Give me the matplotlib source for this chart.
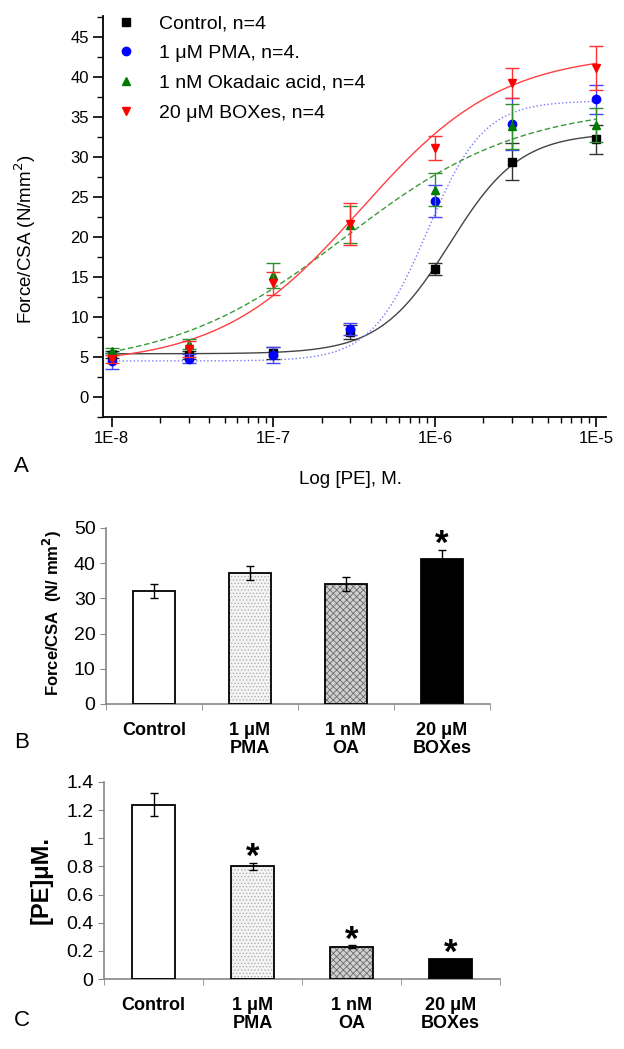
import numpy as np
import matplotlib
matplotlib.use('Agg')
import matplotlib.pyplot as plt
from matplotlib.lines import Line2D
from matplotlib.ticker import FixedLocator, NullFormatter, FuncFormatter, MultipleLocator

plt.rcParams['font.family'] = ['Liberation Sans', 'DejaVu Sans']
plt.rcParams['hatch.linewidth'] = 0.6

# ---------------- Panel A data ----------------
conc = [1e-8, 3e-8, 1e-7, 3e-7, 1e-6, 3e-6, 1e-5]
series_labels = ["Control, n=4", "1 μM PMA, n=4.", "1 nM Okadaic acid, n=4", "20 μM BOXes, n=4"]
control_mean = [5.3, 5.2, 5.5, 8.1, 16.0, 29.4, 32.2]
control_err = [0.4, 0.5, 0.7, 0.9, 0.8, 2.3, 1.8]
pma_mean = [4.5, 4.8, 5.3, 8.5, 24.5, 34.1, 37.2]
pma_err = [1.0, 0.6, 1.0, 0.7, 2.0, 3.3, 1.8]
oa_mean = [5.8, 6.6, 15.2, 21.5, 25.9, 33.8, 34.0]
oa_err = [0.3, 0.6, 1.6, 2.3, 2.1, 2.8, 2.1]
boxes_mean = [4.8, 6.0, 14.2, 21.6, 31.1, 39.2, 41.1]
boxes_err = [0.5, 1.0, 1.4, 2.6, 1.5, 1.9, 2.7]

# Hill-fit parameters of the drawn fit curves (bottom, top, EC50, slope)
fit_bottom = [5.4, 4.5, 3.5, 4.0]
fit_top = [33.0, 37.0, 36.5, 43.0]
fit_ec50 = [1.24e-6, 0.9e-6, 0.28e-6, 0.35e-6]
fit_hill = [2.0, 2.5, 0.8, 1.0]

# ---------------- Panel B / C data ----------------
bar_labels = ["Control", "1 μM\nPMA", "1 nM\nOA", "20 μM\nBOXes"]
maxforce_mean = [32.2, 37.2, 34.2, 41.1]
maxforce_err = [2.0, 1.9, 2.0, 2.6]
maxforce_sig = [False, False, False, True]
ec50_mean = [1.24, 0.80, 0.23, 0.14]
ec50_err = [0.085, 0.025, 0.01, 0.005]
ec50_sig = [False, True, True, True]

W, H = 624, 1049
fig = plt.figure(figsize=(W / 100, H / 100), dpi=100)

def fig_rect(x0, y0, x1, y1):
    return [x0 / W, 1 - y1 / H, (x1 - x0) / W, (y1 - y0) / H]

# ================= Panel A =================
axA = fig.add_axes(fig_rect(103, 16, 606, 417))
means = [control_mean, pma_mean, oa_mean, boxes_mean]
errs = [control_err, pma_err, oa_err, boxes_err]
mcolors = ['black', '#0000ff', '#007a00', '#ff0000']
ecolors = ['#333333', '#4444ff', '#2f8f2f', '#ff3030']
lcolors = ['#444444', '#7777ff', '#3a9a3a', '#ff4040']
lstyles = ['-', ':', (0, (4, 2)), '-']
markers = ['s', 'o', '^', 'v']
xfit = np.logspace(-8, -5, 300)
for i in range(4):
    yfit = fit_bottom[i] + (fit_top[i] - fit_bottom[i]) / (1 + (fit_ec50[i] / xfit) ** fit_hill[i])
    axA.plot(xfit, yfit, color=lcolors[i], ls=lstyles[i], lw=1.0, zorder=2)
for i in range(4):
    axA.errorbar(conc, means[i], yerr=errs[i], fmt=markers[i], color=mcolors[i],
                 ecolor=ecolors[i], elinewidth=1.0, capsize=5, capthick=1.0,
                 markersize=6, zorder=3 + i)
axA.set_xscale('log')
axA.set_xlim(10 ** -8.053, 10 ** -4.941)
axA.set_ylim(-2.5, 47.6)
axA.set_xticks([1e-8, 1e-7, 1e-6, 1e-5])
axA.set_xticklabels(['1E-8', '1E-7', '1E-6', '1E-5'])
axA.xaxis.set_minor_locator(FixedLocator([m * 10.0 ** e for e in (-8, -7, -6) for m in range(2, 10)]))
axA.xaxis.set_minor_formatter(NullFormatter())
axA.yaxis.set_major_locator(MultipleLocator(5))
axA.yaxis.set_minor_locator(MultipleLocator(2.5))
axA.set_yticks(range(0, 50, 5))
for s in ['top', 'right']:
    axA.spines[s].set_visible(False)
for s in ['left', 'bottom']:
    axA.spines[s].set_linewidth(1.3)
axA.tick_params(which='major', length=7, width=1.2, labelsize=12, direction='out', pad=3)
axA.tick_params(which='minor', length=4, width=1.0, direction='out')
axA.set_ylabel('Force/CSA (N/mm$^2$)', fontsize=13.5)
axA.yaxis.set_label_coords(-0.13, 0.443)
axA.set_xlabel('Log [PE], M.', fontsize=13.5)
axA.xaxis.set_label_coords(0.493, -0.135)
handles = [Line2D([], [], ls='none', marker=markers[i], color=mcolors[i], markersize=6) for i in range(4)]
fig.legend(handles, series_labels, loc='upper left', bbox_to_anchor=(116 / W, 1 - 15 / H),
           frameon=False, fontsize=14, handlelength=1.0, handletextpad=1.2,
           labelspacing=0.62, borderpad=0, borderaxespad=0)
fig.text(14 / W, 1 - 467 / H, 'A', fontsize=16, va='center', ha='left')

# ================= Panels B and C =================
def bar_panel(ax, vals, errs_, sig, ymax, ystep, ylabel, ylabel_size, fmt, ticksize):
    x = np.arange(len(vals))
    face = ['white', '#f4f4f4', '#d0d0d0', 'black']
    hcol = ['white', '#b0b0b0', '#6a6a6a', 'black']
    hatch = [None, '.....', 'xxxxx', None]
    for i in range(len(vals)):
        ax.bar(x[i], vals[i], width=0.43, color=face[i], edgecolor=hcol[i],
               hatch=hatch[i], linewidth=0, zorder=2)
    ax.bar(x, vals, width=0.43, fill=False, edgecolor='black', linewidth=1.3, zorder=3)
    ax.errorbar(x, vals, yerr=errs_, fmt='none', ecolor='black', elinewidth=1.0,
                capsize=3, capthick=1.0, zorder=4)
    for i in range(len(vals)):
        if sig[i]:
            ax.annotate('*', (x[i], vals[i] + errs_[i]), xytext=(0, -3),
                        textcoords='offset points', ha='center', va='baseline',
                        fontsize=25, fontweight='bold')
    ax.set_xlim(-0.5, len(vals) - 0.5)
    ax.set_ylim(0, ymax)
    ax.set_yticks(np.arange(0, ymax + ystep / 2, ystep))
    ax.yaxis.set_major_formatter(FuncFormatter(fmt))
    ax.set_xticks(x)
    ax.set_xticklabels(bar_labels, fontsize=13, fontweight='bold', linespacing=1.1)
    ax.xaxis.set_minor_locator(FixedLocator(np.arange(-0.5, len(vals), 1.0)))
    ax.tick_params(axis='x', which='major', length=0, pad=13)
    ax.tick_params(axis='x', which='minor', length=4, color='#888888', direction='out')
    ax.tick_params(axis='y', which='major', length=4, color='#888888', direction='out',
                   labelsize=ticksize)
    for s in ['top', 'right']:
        ax.spines[s].set_visible(False)
    for s in ['left', 'bottom']:
        ax.spines[s].set_color('#888888')
        ax.spines[s].set_linewidth(1.2)
    ax.set_ylabel(ylabel, fontsize=ylabel_size, fontweight='bold')

axB = fig.add_axes(fig_rect(106, 528, 490, 704))
bar_panel(axB, maxforce_mean, maxforce_err, maxforce_sig, 50, 10,
          'Force/CSA  (N/ mm$^{\\mathbf{2}}$)', 12, lambda v, p: f'{v:g}', 14)
axB.yaxis.set_label_coords(-0.11, 0.52)
fig.text(14 / W, 1 - 742 / H, 'B', fontsize=16, va='center', ha='left')

axC = fig.add_axes(fig_rect(104, 782, 500, 979))
bar_panel(axC, ec50_mean, ec50_err, ec50_sig, 1.4, 0.2,
          '[PE]μM.', 17, lambda v, p: f'{round(v, 1):g}', 14)
axC.yaxis.set_label_coords(-0.13, 0.5)
fig.text(14 / W, 1 - 1020 / H, 'C', fontsize=16, va='center', ha='left')

fig.savefig('out.png', dpi=100)
